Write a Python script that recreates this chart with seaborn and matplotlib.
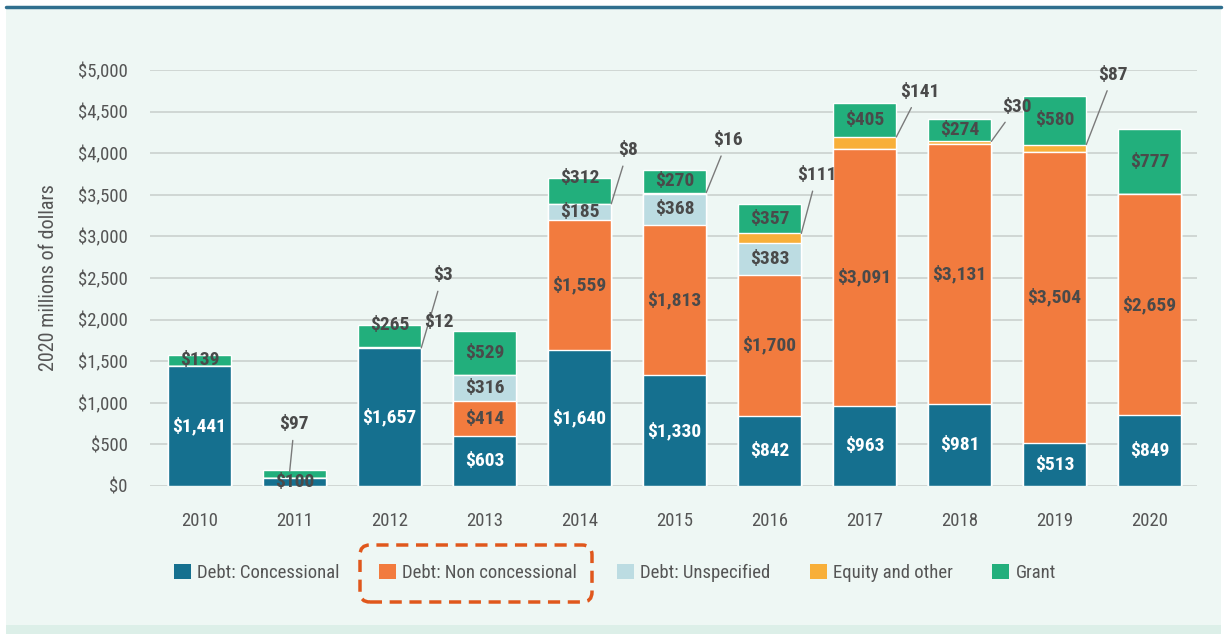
import numpy as np
import pandas as pd
import matplotlib
matplotlib.use("Agg")
import matplotlib.pyplot as plt
from matplotlib import font_manager
from matplotlib.patches import Patch, FancyBboxPatch, Rectangle
from matplotlib.lines import Line2D
import seaborn as sns

# ---- data (2020 millions of dollars) ----
years = ["2010", "2011", "2012", "2013", "2014", "2015", "2016", "2017", "2018", "2019", "2020"]
concessional = [1441, 100, 1657, 603, 1640, 1330, 842, 963, 981, 513, 849]
non_concessional = [0, 0, 0, 414, 1559, 1813, 1700, 3091, 3131, 3504, 2659]
unspecified = [0, 0, 3, 316, 185, 368, 383, 0, 0, 0, 0]
equity_other = [0, 0, 12, 0, 8, 16, 111, 141, 30, 87, 0]
grant = [139, 97, 265, 529, 312, 270, 357, 405, 274, 580, 777]

series_names = ["Debt: Concessional", "Debt: Non concessional", "Debt: Unspecified",
                "Equity and other", "Grant"]
series_values = [concessional, non_concessional, unspecified, equity_other, grant]
series_colors = ["#15708F", "#F27B3E", "#BCDCE2", "#F8AF39", "#22AF7C"]

# ---- style ----
sns.set_style("white")
available = {f.name for f in font_manager.fontManager.ttflist}
families = [f for f in ["Liberation Sans Narrow", "Roboto Condensed", "Roboto", "DejaVu Sans"]
            if f in available]
plt.rcParams["font.family"] = families
TEXT = "#555555"
LABEL = "#4A4A4A"

fig = plt.figure(figsize=(12.3, 6.34), dpi=100)
fig.patch.set_facecolor("white")
W, H = 1230, 634
# panel background, bottom band and top rule
fig.patches.append(Rectangle((6 / W, 0), 1215 / W, 626 / H, transform=fig.transFigure,
                             facecolor="#EEF7F4", edgecolor="none", zorder=-2))
fig.patches.append(Rectangle((6 / W, 0), 1215 / W, 9 / H, transform=fig.transFigure,
                             facecolor="#DCEFE8", edgecolor="none", zorder=-1))
fig.lines.append(Line2D([6 / W, 1221 / W], [1 - 6.5 / H, 1 - 6.5 / H], transform=fig.transFigure,
                        color="#2F6F8E", lw=2.5, zorder=1))

ax = fig.add_axes([150 / W, 148 / H, 1047 / W, (486 - 70) / H])
ax.set_facecolor("none")

# ---- stacked bars: draw cumulative totals from the top layer down ----
df = pd.DataFrame(dict(zip(series_names, series_values)), index=years)
cum = df.cumsum(axis=1)
BAR_W = 0.67
for name, color in reversed(list(zip(series_names, series_colors))):
    sns.barplot(x=years, y=cum[name].values, color=color, saturation=1, width=BAR_W,
                errorbar=None, ax=ax, zorder=3)

ax.set_xlim(-0.52, 10.5)
ax.set_ylim(0, 5000)
ax.set_yticks(np.arange(0, 5001, 500))
ax.yaxis.set_major_formatter(matplotlib.ticker.FuncFormatter(lambda v, p: f"${v:,.0f}"))
ax.grid(axis="y", color="#CDD4D1", lw=1.3, zorder=0)
ax.grid(axis="x", visible=False)
ax.set_axisbelow(True)
for s in ax.spines.values():
    s.set_visible(False)
ax.tick_params(axis="y", length=0, pad=16, labelsize=13.5, labelcolor=TEXT)
ax.tick_params(axis="x", which="major", length=0, pad=19, labelsize=13.5, labelcolor=TEXT)
ax.set_xticks(np.arange(-0.5, 11, 1), minor=True)
ax.tick_params(axis="x", which="minor", length=6, width=1, color="#BFC5C2", direction="out")
ax.set_xlabel("")
ax.set_ylabel("2020 millions of dollars", fontsize=14.5, color=TEXT, labelpad=14)

# ---- value labels ----
# labels placed outside the bar with a leader line: (series, year) -> label position
callouts = {
    ("Grant", "2011"): ((1.0, 745), (0.95, 175)),
    ("Debt: Unspecified", "2012"): ((2.56, 2536), (2.335, 1660)),
    ("Equity and other", "2014"): ((4.51, 4040), (4.335, 3392)),
    ("Equity and other", "2015"): ((5.56, 4160), (5.335, 3527)),
    ("Equity and other", "2016"): ((6.50, 3740), (6.335, 3036)),
    ("Equity and other", "2017"): ((7.58, 4740), (7.335, 4195)),
    ("Equity and other", "2018"): ((8.60, 4560), (8.335, 4142)),
    ("Equity and other", "2019"): ((9.62, 4945), (9.335, 4104)),
}
beside = {("Equity and other", "2012"): (2.52, 1971)}
at_top = {("Grant", "2012"), ("Grant", "2014")}

for name in series_names:
    for i, yr in enumerate(years):
        v = df.loc[yr, name]
        if v <= 0:
            continue
        top = cum.loc[yr, name]
        bottom = top - v
        txt = f"${v:,.0f}"
        key = (name, yr)
        if key in callouts:
            (tx, ty), (px, py) = callouts[key]
            ax.annotate(txt, xy=(px, py), xytext=(tx, ty), ha="center", va="center",
                        fontsize=14, fontweight="bold", color=LABEL, zorder=6,
                        annotation_clip=False,
                        arrowprops=dict(arrowstyle="-", color="#7A7A7A", lw=1,
                                        shrinkA=3, shrinkB=0))
        elif key in beside:
            tx, ty = beside[key]
            ax.text(tx, ty, txt, ha="center", va="center", fontsize=14,
                    fontweight="bold", color=LABEL, zorder=6)
        else:
            y = top if key in at_top else (bottom + top) / 2
            color = "white" if (name == "Debt: Concessional" and v >= 300) else LABEL
            ax.text(i, y, txt, ha="center", va="center", fontsize=14,
                    fontweight="bold", color=color, zorder=6)

# ---- legend ----
handles = [Patch(facecolor=c, edgecolor="none") for c in series_colors]
leg = fig.legend(handles, series_names, loc="center", bbox_to_anchor=(615 / W, 1 - 573 / H),
                 ncol=5, frameon=False, fontsize=13.5, labelcolor=TEXT,
                 handlelength=0.9, handleheight=0.9, handletextpad=0.35, columnspacing=2.1)

# dashed highlight around the non-concessional entry
fig.patches.append(FancyBboxPatch((360 / W, 1 - 602 / H), 232 / W, 57 / H,
                                  boxstyle="round,pad=0,rounding_size=0.008",
                                  mutation_aspect=W / H,
                                  transform=fig.transFigure, fill=False,
                                  edgecolor="#E0571C", lw=2.5, linestyle=(0, (3.5, 2.2)),
                                  zorder=5))

fig.savefig("out.png", dpi=100, facecolor=fig.get_facecolor())
